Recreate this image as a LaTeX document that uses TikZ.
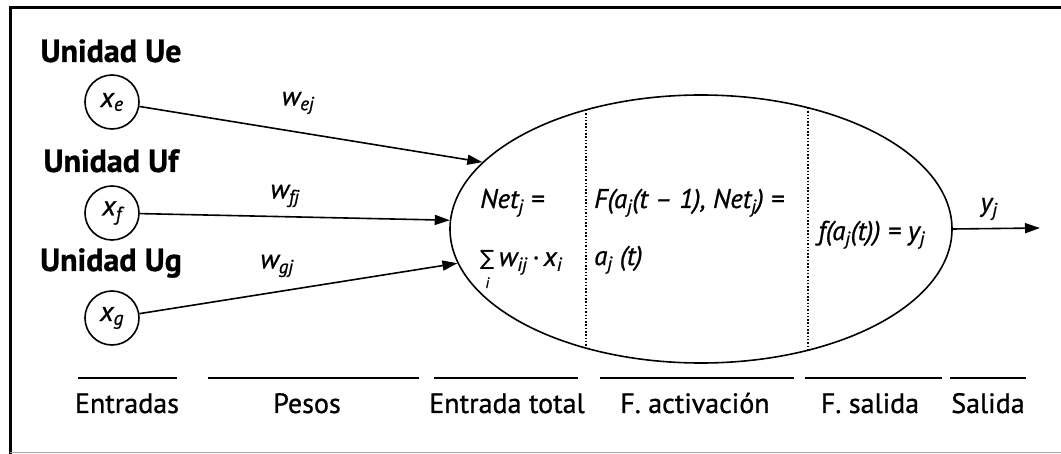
\documentclass[tikz,border=0pt]{standalone}
\usepackage{fontspec}
\setmainfont{PT Sans}[FakeBold=0.9]
\newfontfamily\symfont{DejaVu Sans}
\usetikzlibrary{shapes.geometric,arrows.meta}
\newcommand{\sbs}[1]{\textsubscript{#1}}
\newcommand{\sumi}{\begin{tabular}[t]{@{}c@{}}{\symfont\fontsize{21}{21}\selectfont ∑}\\[-10pt]{\fontsize{15}{15}\selectfont i}\end{tabular}}
\begin{document}
\begin{tikzpicture}[x=1pt,y=-1pt,
  lbl/.style={font=\fontsize{32}{36}\selectfont\bfseries,inner sep=0pt},
  capt/.style={font=\fontsize{28}{32}\selectfont,inner sep=0pt,anchor=base},
  frm/.style={font=\fontsize{27}{32}\selectfont\itshape,inner sep=0pt},
  wlab/.style={font=\fontsize{27}{32}\selectfont\itshape,inner sep=0pt},
  unit/.style={circle,draw,line width=1.6pt,minimum size=54pt,inner sep=0pt,font=\fontsize{28}{32}\selectfont\itshape},
  arr/.style={line width=1.6pt,-{Triangle[length=15pt,width=10pt]}},
  sepline/.style={line width=1.6pt},
  dots/.style={line width=1.3pt,dash pattern=on 1.5pt off 1.8pt}]
\useasboundingbox (0,0) rectangle (1061,454);
% frame
\draw[line width=3pt] (1061,7.5) -- (10,7.5) -- (10,454);
\draw[black!35, line width=1pt] (10,452.5) -- (1061,452.5);

% unit labels
\node[lbl,anchor=base] (ue) at (111,62) {Unidad Ue};
\node[lbl,anchor=base] (uf) at (111,172) {Unidad Uf};
\node[lbl,anchor=base] (ug) at (111,271) {Unidad Ug};

% input units
\node[unit] (xe) at (112,102) {x\sbs{e}};
\node[unit] (xf) at (112,213) {x\sbs{f}};
\node[unit] (xg) at (112,318) {x\sbs{g}};

% neuron
\node[ellipse,draw,line width=1.6pt,minimum width=502pt,minimum height=268pt,inner sep=0pt] (ell) at (701,229) {};
\coordinate (d1t) at (586,110);
\coordinate (d1b) at (586,348);
\coordinate (d2t) at (808,108);
\coordinate (d2b) at (808,350);
\draw[dots] (d1t) -- (d1b);
\draw[dots] (d2t) -- (d2b);

% connections
\draw[arr] (xe) -- (ell.163.4);
\draw[arr] (xf) -- (ell.178.4);
\draw[arr] (xg) -- (ell.188.6);
\coordinate (out) at (1040,228);
\draw[arr] (ell.east) -- (out);

% weight labels
\node[wlab] (wej) at (298,103) {w\sbs{ej}};
\node[wlab] (wfj) at (285,196) {w\sbs{fj}};
\node[wlab] (wgj) at (277,266) {w\sbs{gj}};
\node[wlab] (yj) at (989,209) {y\sbs{j}};

% formulas
\node[frm,anchor=base west] (net) at (480,208) {Net\sbs{j} =};
\node[frm,anchor=base west] (sum) at (480,266) {\sumi\,w\sbs{ij}\,·\,x\sbs{i}};
\node[frm,anchor=base west] (act) at (594,208) {F(a\sbs{j}(t – 1), Net\sbs{j}) =};
\node[frm,anchor=base west] (aj) at (594,265) {a\sbs{j} (t)};
\node[frm,anchor=base west] (fout) at (818,240) {f(a\sbs{j}(t)) = y\sbs{j}};

% bottom captions
\coordinate (l1a) at (78,378);  \coordinate (l1b) at (177,378);
\coordinate (l2a) at (208,378); \coordinate (l2b) at (419,378);
\coordinate (l3a) at (434,378); \coordinate (l3b) at (578,378);
\coordinate (l4a) at (600,378); \coordinate (l4b) at (794,378);
\coordinate (l5a) at (805,378); \coordinate (l5b) at (942,378);
\coordinate (l6a) at (950,378); \coordinate (l6b) at (1026,378);
\draw[sepline] (l1a) -- (l1b);
\draw[sepline] (l2a) -- (l2b);
\draw[sepline] (l3a) -- (l3b);
\draw[sepline] (l4a) -- (l4b);
\draw[sepline] (l5a) -- (l5b);
\draw[sepline] (l6a) -- (l6b);
\node[capt] (c1) at (127,413) {Entradas};
\node[capt] (c2) at (307,413) {Pesos};
\node[capt] (c3) at (507,413) {Entrada total};
\node[capt] (c4) at (695,413) {F. activación};
\node[capt] (c5) at (870,413) {F. salida};
\node[capt] (c6) at (988,413) {Salida};
\end{tikzpicture}
\end{document}
